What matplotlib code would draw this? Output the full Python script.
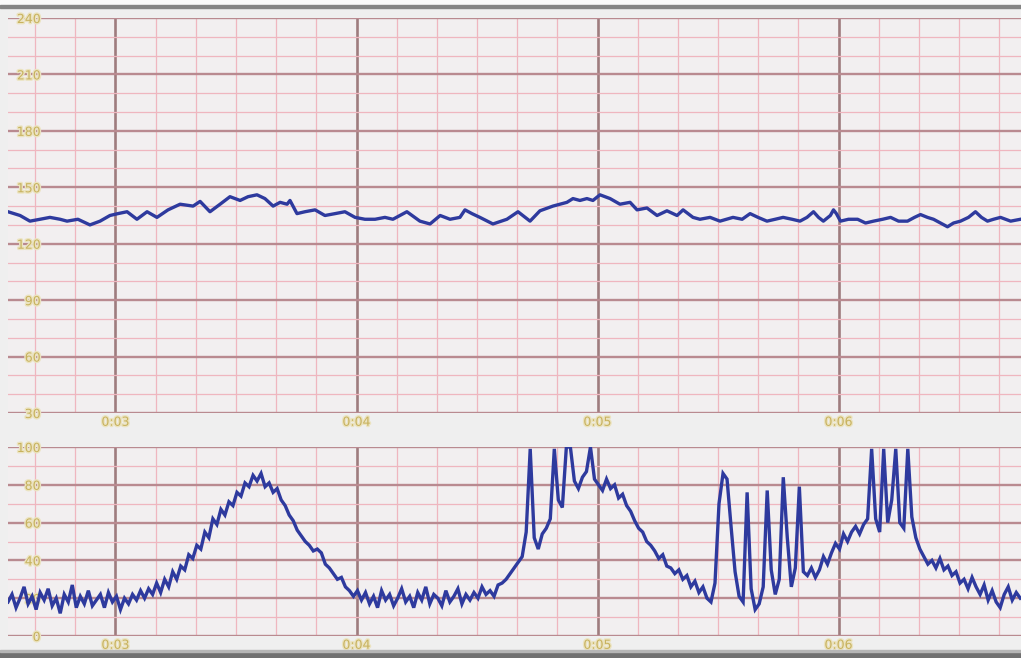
#!/usr/bin/env python3
"""
CTG strip recreation: fetal heart rate (top) and uterine activity (bottom)
"""

import matplotlib
matplotlib.use('Agg')
import matplotlib.pyplot as plt
from matplotlib.patches import Rectangle
from matplotlib.ticker import MultipleLocator, FixedLocator
import matplotlib.patheffects as pe
import numpy as np

# ---- data -------------------------------------------------------------
# time in minutes, FHR in bpm (read off the strip)
fhr_t = [2.554, 2.604, 2.645, 2.687, 2.728, 2.770, 2.799, 2.844, 2.894, 2.936,
         2.977, 3.010, 3.048, 3.089, 3.131, 3.172, 3.218, 3.268, 3.322, 3.351,
         3.392, 3.434, 3.475, 3.517, 3.550, 3.587, 3.620, 3.654, 3.683, 3.712,
         3.724, 3.753, 3.786, 3.828, 3.869, 3.911, 3.952, 3.994, 4.035, 4.077,
         4.118, 4.151, 4.180, 4.209, 4.263, 4.305, 4.347, 4.388, 4.429, 4.450,
         4.479, 4.512, 4.566, 4.624, 4.670, 4.720, 4.761, 4.815, 4.873, 4.898,
         4.927, 4.956, 4.981, 5.010, 5.052, 5.093, 5.135, 5.164, 5.205, 5.247,
         5.288, 5.330, 5.355, 5.396, 5.425, 5.467, 5.508, 5.562, 5.600, 5.633,
         5.666, 5.703, 5.737, 5.770, 5.807, 5.840, 5.869, 5.896, 5.917, 5.937,
         5.966, 5.979, 5.991, 6.008, 6.041, 6.079, 6.112, 6.145, 6.183, 6.216,
         6.249, 6.286, 6.315, 6.340, 6.369, 6.394, 6.423, 6.452, 6.477, 6.506,
         6.539, 6.568, 6.593, 6.618, 6.643, 6.672, 6.714, 6.755]
fhr_v = [137, 135, 132, 133, 134, 133, 132, 133, 130, 132,
         135, 136, 137, 133, 137, 134, 138, 141, 140, 142.5,
         137, 141, 145, 143, 145, 146, 144, 140, 142, 141,
         143, 136, 137, 138, 135, 136, 137, 134, 133, 133,
         134, 133, 135, 137, 132, 130.5, 135, 133, 134, 138,
         136, 134, 130.5, 133, 137, 132, 137.5, 140, 142, 144,
         143, 144, 143, 146, 144, 141, 142, 138, 139, 135,
         137.5, 135, 138, 134, 133, 134, 132, 134, 133, 136,
         134, 132, 133, 134, 133, 132, 134, 137, 134, 132,
         135, 138, 136, 132, 133, 133, 131, 132, 133, 134,
         132, 132, 134, 135.5, 134, 133, 131, 129, 131, 132,
         134, 137, 134, 132, 133, 134, 132, 133]

# uterine activity, one sample per second starting at toco_start (minutes)
toco_start = 2.554
toco = [18, 22, 15, 20, 26, 17, 21, 14, 23, 19,
        25, 16, 20, 12, 22, 18, 27, 15, 21, 17,
        24, 16, 19, 22, 15, 23, 18, 21, 14, 20,
        17, 22,
        19, 24, 20, 25, 22, 28, 23, 30, 26, 34,
        30, 37, 35, 43, 41, 48, 46, 55, 52, 62,
        59, 67, 64, 71, 69, 76, 74, 81, 79,
        85, 82, 86, 79, 81, 76, 78, 72, 69, 64,
        61, 56, 53, 50, 48, 45, 46, 44, 38, 36,
        33, 30, 31, 26, 24, 21, 24, 19,
        23, 17, 21, 15, 24, 19, 22, 16, 20, 25,
        18, 21, 15, 23, 19, 26, 17, 22, 20, 16,
        24, 18, 21, 25, 17, 22, 19, 23, 20, 26,
        22, 24, 21, 27,
        28, 30, 33, 36, 39, 42, 55, 99, 52, 46,
        54, 57, 62, 99, 72, 68, 100, 100, 82, 78,
        84, 87, 100, 83, 80,
        77, 83, 78, 80, 73, 75, 69, 66, 61, 57,
        55, 50, 48, 45, 41, 43, 37, 36, 33, 35,
        30, 32, 26, 29, 23, 26, 20, 18,
        28, 70, 86, 83, 58, 34, 21, 18, 76, 25,
        14, 17, 26, 77, 35, 22, 30, 84, 52, 26,
        36, 79, 34,
        32, 36, 31, 35, 42, 38, 44, 49, 46, 54,
        50, 55, 58, 54, 59,
        62, 99, 62, 55, 99, 60, 72, 99, 60, 57,
        99, 63,
        52, 46, 42, 38, 40, 36, 41, 35, 37, 32,
        34, 28, 30, 25, 31, 26, 22, 27, 19, 24,
        18, 15, 22, 26, 19, 23, 20]

minute_ticks = [3, 4, 5, 6]
minute_labels = ['0:03', '0:04', '0:05', '0:06']
fhr_ticks = [30, 60, 90, 120, 150, 180, 210, 240]
toco_ticks = [0, 20, 40, 60, 80, 100]

# ---- style ------------------------------------------------------------
BG = '#f2eff0'
MAJOR_H = '#b98a90'
MAJOR_V = '#9e7c7e'
MINOR = '#efb6bf'
TRACE = '#2e3a9e'
LABEL = '#c8b25e'
XMIN, XMAX = 2.554, 6.757


def style_axes(ax, ylim, yticks, ystep):
    ax.set_facecolor(BG)
    ax.set_xlim(XMIN, XMAX)
    ax.set_ylim(*ylim)
    for s in ax.spines.values():
        s.set_visible(False)

    ax.xaxis.set_major_locator(FixedLocator(minute_ticks))
    ax.xaxis.set_minor_locator(MultipleLocator(1 / 6))
    ax.set_xticklabels(minute_labels)
    ax.yaxis.set_major_locator(FixedLocator(yticks))
    ax.yaxis.set_minor_locator(MultipleLocator(ystep))
    ax.set_yticklabels([str(v) for v in yticks])

    ax.grid(which='minor', color=MINOR, linewidth=0.9, zorder=0)
    ax.grid(which='major', axis='y', color=MAJOR_H, linewidth=1.7, zorder=0)
    ax.grid(which='major', axis='x', color=MAJOR_V, linewidth=1.9, zorder=0)
    ax.set_axisbelow(True)

    ax.tick_params(which='both', length=0)
    ax.tick_params(axis='x', pad=2, labelsize=9, labelcolor=LABEL)
    ax.tick_params(axis='y', pad=-23.5, labelsize=9, labelcolor=LABEL)
    halo = [pe.withStroke(linewidth=2, foreground='#ebe3c0')]
    for lab in ax.get_xticklabels() + ax.get_yticklabels():
        lab.set_path_effects(halo)
        lab.set_zorder(5)


def main():
    fig = plt.figure(figsize=(10.21, 6.58), dpi=100, facecolor='#efefef')

    W, H = 1021, 658
    ax_top = fig.add_axes([8 / W, 1 - 413 / H, 1013 / W, 395 / H])
    ax_bot = fig.add_axes([8 / W, 1 - 636 / H, 1013 / W, 189 / H])

    style_axes(ax_top, (30, 240), fhr_ticks, 10)
    style_axes(ax_bot, (0, 100), toco_ticks, 10)

    ax_top.plot(fhr_t, fhr_v, color=TRACE, linewidth=2.4, zorder=3)

    toco_t = toco_start + np.arange(len(toco)) / 60.0
    ax_bot.plot(toco_t, toco, color=TRACE, linewidth=2.4, zorder=3,
                solid_joinstyle='miter')

    # window frame bars
    fig.add_artist(Rectangle((0, 1 - 5 / H), 1, 5 / H, transform=fig.transFigure,
                             color='#fafafa', zorder=10))
    fig.add_artist(Rectangle((0, 1 - 8 / H), 1, 3 / H, transform=fig.transFigure,
                             color='#858585', zorder=10))
    fig.add_artist(Rectangle((0, 0), 1, 6 / H, transform=fig.transFigure,
                             color='#707070', zorder=10))
    fig.add_artist(Rectangle((0, 6 / H), 1, 2 / H, transform=fig.transFigure,
                             color='#b5b5b5', zorder=10))

    plt.savefig('out.png', dpi=100, facecolor=fig.get_facecolor())


if __name__ == '__main__':
    main()
